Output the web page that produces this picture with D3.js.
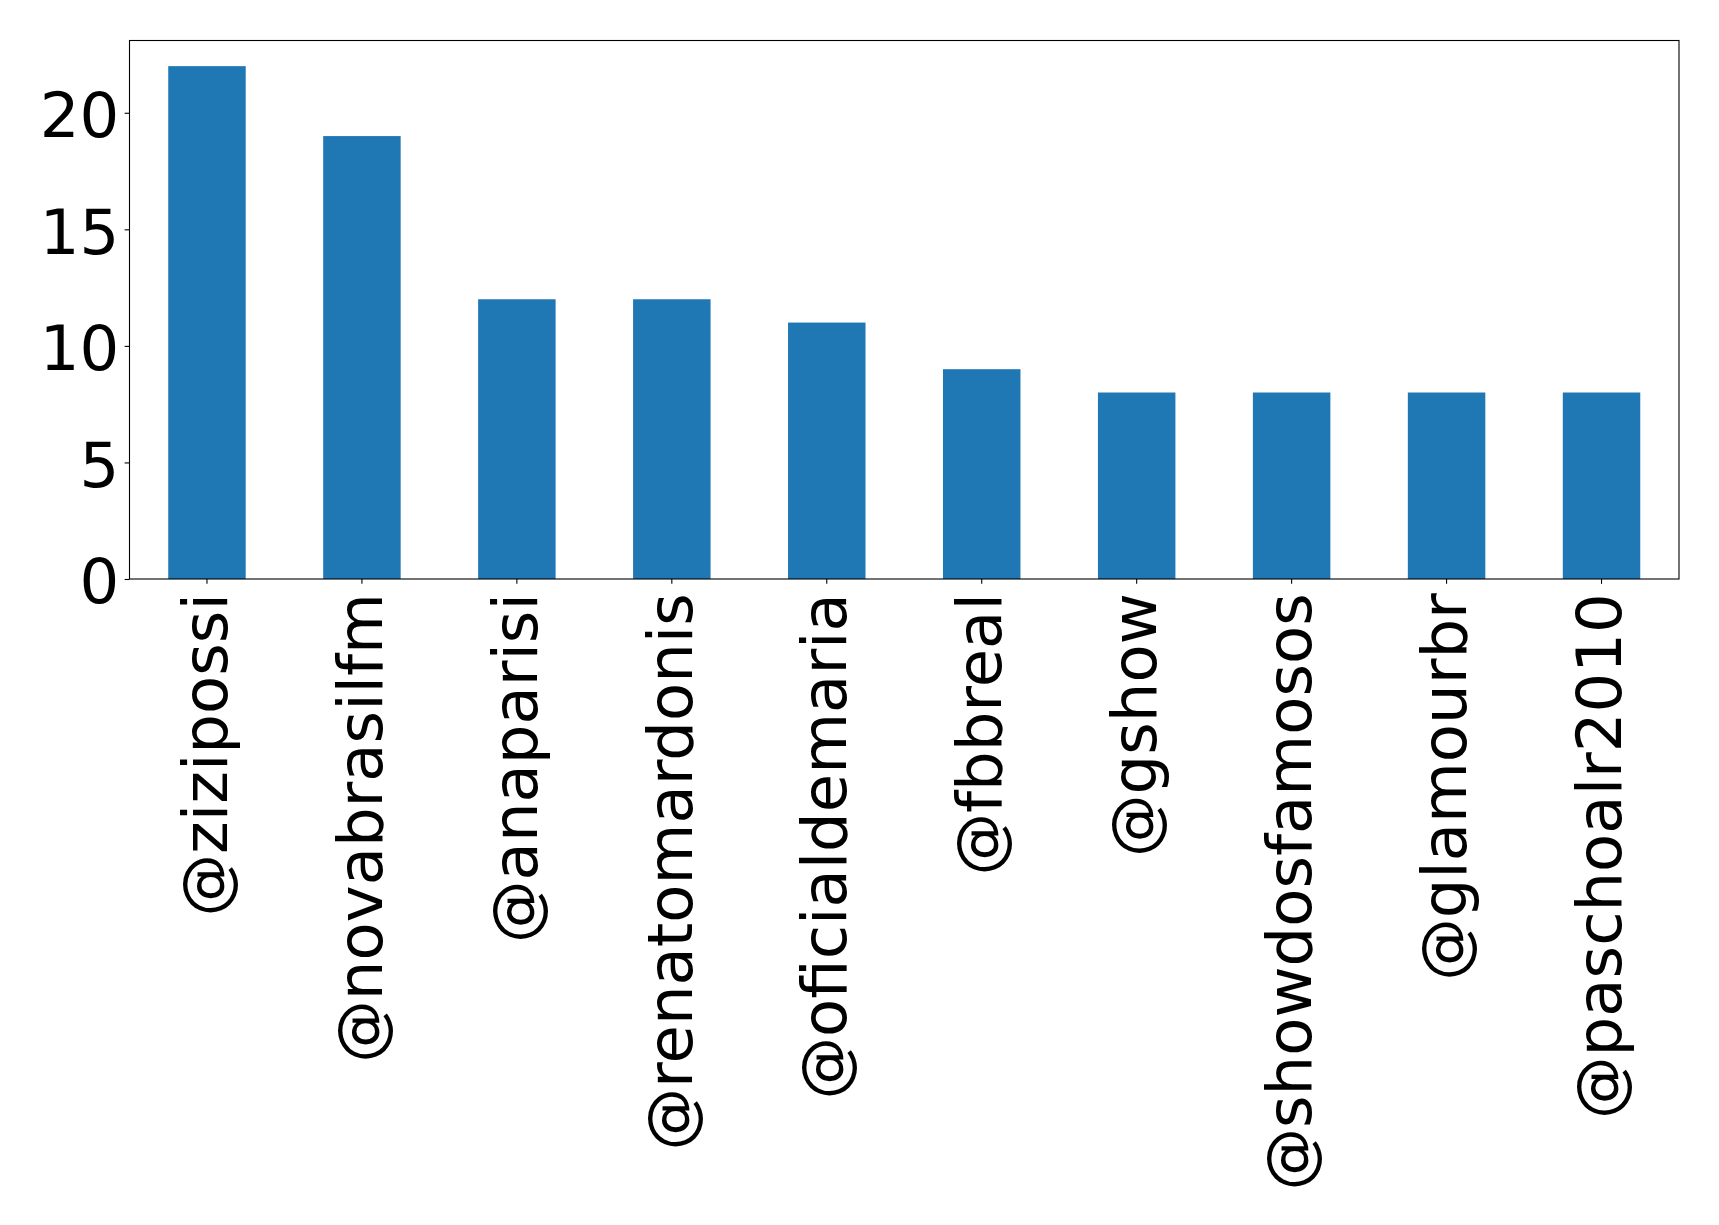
<!DOCTYPE html>
<html>
<head>
<meta charset="utf-8">
<script src="https://cdn.jsdelivr.net/npm/d3@7"></script>
<style>
  html, body { margin: 0; padding: 0; background: #fff; }
  svg { display: block; }
</style>
</head>
<body>
<svg id="chart" width="1719" height="1225"></svg>
<script>
const categories = ["@zizipossi", "@novabrasilfm", "@anaparisi", "@renatomardonis", "@oficialdemaria",
                    "@fbbreal", "@gshow", "@showdosfamosos", "@glamourbr", "@paschoalr2010"];
const values = [22, 19, 12, 12, 11, 9, 8, 8, 8, 8];
const yTicks = [0, 5, 10, 15, 20];

const W = 1719, H = 1225;
const margin = { left: 129.5, right: W - 1679, top: 40.5, bottom: H - 579 };
const fontSize = 62.5;
const tickLen = 4.86, pad = 4.86;

const svg = d3.select("#chart");
const plotW = W - margin.left - margin.right;
const plotH = H - margin.top - margin.bottom;

const x = d3.scaleBand().domain(categories).range([0, plotW]).paddingInner(0.5).paddingOuter(0.25);
const y = d3.scaleLinear().domain([0, d3.max(values) * 1.05]).range([plotH, 0]);

const g = svg.append("g").attr("transform", `translate(${margin.left},${margin.top})`);

g.selectAll("rect.bar").data(values).join("rect")
  .attr("class", "bar")
  .attr("x", (d, i) => x(categories[i]))
  .attr("width", x.bandwidth())
  .attr("y", d => y(d))
  .attr("height", d => y(0) - y(d))
  .attr("fill", "#1f77b4");

// Y axis
const yAxis = d3.axisLeft(y).tickValues(yTicks).tickSize(tickLen).tickPadding(pad + 0.5).tickFormat(d3.format("d"));
const yg = g.append("g").call(yAxis);
yg.select(".domain").remove();
yg.selectAll(".tick line").attr("stroke", "#000").attr("stroke-width", 1.1);
yg.selectAll(".tick text")
  .attr("font-family", "DejaVu Sans")
  .attr("font-size", fontSize)
  .attr("fill", "#000")
  .attr("dy", "0.38em");

// X axis
const xAxis = d3.axisBottom(x).tickSize(tickLen).tickPadding(pad);
const xg = g.append("g").attr("transform", `translate(0,${plotH})`).call(xAxis);
xg.select(".domain").remove();
xg.selectAll(".tick line").attr("stroke", "#000").attr("stroke-width", 1.1);
xg.selectAll(".tick text")
  .attr("font-family", "DejaVu Sans")
  .attr("font-size", fontSize)
  .attr("fill", "#000")
  .attr("text-anchor", "end")
  .attr("transform", `translate(0,${tickLen + pad + 4.5}) rotate(-90)`)
  .attr("x", 0)
  .attr("y", 0)
  .attr("dy", "0.315em");

// Frame (spines)
g.append("rect")
  .attr("x", 0).attr("y", 0)
  .attr("width", plotW).attr("height", plotH)
  .attr("fill", "none")
  .attr("stroke", "#000")
  .attr("stroke-width", 1.1);
</script>
</body>
</html>
